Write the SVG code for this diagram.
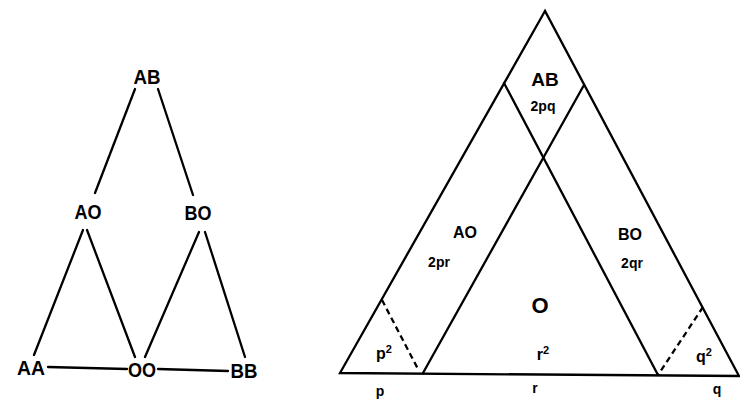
<svg xmlns="http://www.w3.org/2000/svg" width="740" height="402" viewBox="0 0 740 402">
<style>
.ln{stroke:#000;stroke-width:2.3;fill:none;stroke-linecap:round}
.ds{stroke:#000;stroke-width:2.3;fill:none;stroke-dasharray:6 4}
.lb{font-family:"Liberation Sans",Arial,sans-serif;font-weight:bold;fill:#000;text-anchor:middle}
.nd{font-size:21px}
.big{font-size:19px}
.mid{font-size:16px}
.sm{font-size:14px}
.sup{font-size:11px}
</style>
<rect width="740" height="402" fill="#fff"/>
<g id="connectors">
<line class="ln" x1="135" y1="89" x2="95" y2="193"/>
<line class="ln" x1="158" y1="89" x2="193" y2="195"/>
<line class="ln" x1="83" y1="230" x2="34" y2="355"/>
<line class="ln" x1="87" y1="230" x2="135" y2="357"/>
<line class="ln" x1="199" y1="232" x2="145" y2="357"/>
<line class="ln" x1="205" y1="232" x2="245" y2="357"/>
<line class="ln" x1="48" y1="367" x2="127" y2="369"/>
<line class="ln" x1="158" y1="369" x2="228" y2="371"/>
</g>
<g id="node-AB"><text class="lb nd" x="147" y="84" textLength="27" lengthAdjust="spacingAndGlyphs">AB</text></g>
<g id="node-AO"><text class="lb nd" x="88" y="219" textLength="27" lengthAdjust="spacingAndGlyphs">AO</text></g>
<g id="node-BO"><text class="lb nd" x="198" y="220" textLength="27" lengthAdjust="spacingAndGlyphs">BO</text></g>
<g id="node-AA"><text class="lb nd" x="31" y="375" textLength="28" lengthAdjust="spacingAndGlyphs">AA</text></g>
<g id="node-OO"><text class="lb nd" x="142" y="377" textLength="28" lengthAdjust="spacingAndGlyphs">OO</text></g>
<g id="node-BB"><text class="lb nd" x="244" y="378" textLength="27" lengthAdjust="spacingAndGlyphs">BB</text></g>
<g id="triangle">
<polygon class="ln" points="545,11 340,373 739,376" stroke-linejoin="miter"/>
<line class="ln" x1="504" y1="83" x2="658" y2="375"/>
<line class="ln" x1="584" y1="85" x2="423" y2="373"/>
<line class="ds" x1="382" y1="300" x2="419" y2="371"/>
<line class="ds" x1="703" y1="307" x2="658" y2="375"/>
<text class="lb big" x="545" y="86">AB</text>
<text class="lb sm" x="543" y="111">2pq</text>
<text class="lb mid" x="465" y="238">AO</text>
<text class="lb sm" x="439" y="267">2pr</text>
<text class="lb mid" x="630" y="240">BO</text>
<text class="lb sm" x="632" y="268">2qr</text>
<text class="lb" style="font-size:22px" x="540" y="313">O</text>
<text class="lb mid" x="384" y="359">p<tspan class="sup" dy="-6">2</tspan></text>
<text class="lb mid" x="543" y="360">r<tspan class="sup" dy="-6">2</tspan></text>
<text class="lb mid" x="704" y="362">q<tspan class="sup" dy="-6">2</tspan></text>
<text class="lb sm" x="380" y="396">p</text>
<text class="lb sm" x="535" y="393">r</text>
<text class="lb sm" x="717" y="394">q</text>
</g>
</svg>
